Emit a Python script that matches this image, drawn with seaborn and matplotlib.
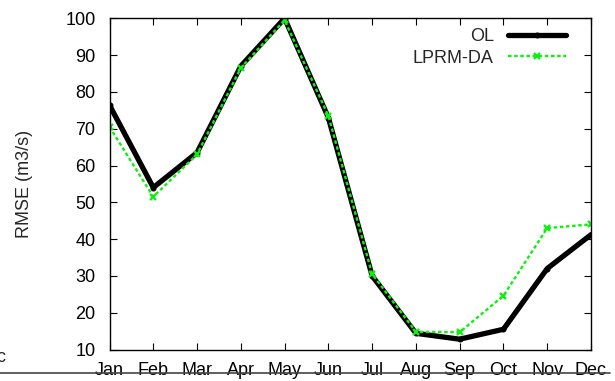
import numpy as np
import pandas as pd
import matplotlib
matplotlib.use("Agg")
import matplotlib.pyplot as plt
import seaborn as sns

months = ["Jan", "Feb", "Mar", "Apr", "May", "Jun", "Jul", "Aug", "Sep", "Oct", "Nov", "Dec"]
ol = [76.4, 54.0, 63.5, 87.0, 100.0, 73.0, 30.0, 14.4, 12.8, 15.5, 32.0, 41.2]
lprm = [70.5, 51.5, 63.0, 86.5, 99.5, 73.5, 30.5, 14.8, 14.7, 24.6, 43.0, 44.0]
yticks = [10, 20, 30, 40, 50, 60, 70, 80, 90, 100]

sns.set_theme(style="ticks")
plt.rcParams['font.family'] = ['Liberation Sans', 'DejaVu Sans']

fig = plt.figure(figsize=(6.15, 3.81), dpi=100)
ax = fig.add_axes([109.5/615, 1-349.5/381, (591-109.5)/615, (349.5-18.3)/381])

x = np.arange(len(months))
df = pd.DataFrame({"x": x, "OL": ol, "LPRM-DA": lprm})

sns.lineplot(data=df, x="x", y="OL", ax=ax, color="black", linewidth=3.8,
             marker="o", markersize=3.5, markeredgewidth=0.8,
             markeredgecolor="black", markerfacecolor="black", label="OL")
sns.lineplot(data=df, x="x", y="LPRM-DA", ax=ax, color="#11ee11", linewidth=1.7,
             linestyle=(0, (1.5, 1.1)), marker="x", markersize=5, markeredgewidth=1.7,
             markeredgecolor="#11ee11", label="LPRM-DA")

ax.set_xlim(0, 11)
ax.set_ylim(10, 100)
ax.set_xticks(x)
ax.set_xticklabels(months)
ax.set_yticks(yticks)
ax.set_xlabel("")
ax.set_ylabel("RMSE (m3/s)", fontsize=13)
ax.yaxis.set_label_coords((33 - 109.5) / 481.5, 0.5)
ax.tick_params(direction="in", length=5, width=0.8, top=True, right=True,
               labelsize=13, colors="black")
ax.tick_params(axis="x", pad=9)
ax.tick_params(axis="y", pad=10)
for s in ax.spines.values():
    s.set_color("black")
    s.set_linewidth(1.0)

leg = ax.legend(loc="upper right", markerfirst=False, frameon=False, fontsize=13,
                handlelength=3.2, handletextpad=0.8, labelspacing=0.25,
                borderaxespad=0.0, borderpad=0.0,
                bbox_to_anchor=(566/615, 1-28/381), bbox_transform=fig.transFigure)

# artifacts from the source figure
fig.add_artist(plt.Line2D([0, 610/615], [1-372.7/381]*2, transform=fig.transFigure,
                          color="#444444", linewidth=1.2))
fig.text(5/615, 1-358/381, "c", ha="right", va="center", fontsize=13)

fig.savefig("out.png", dpi=100)
